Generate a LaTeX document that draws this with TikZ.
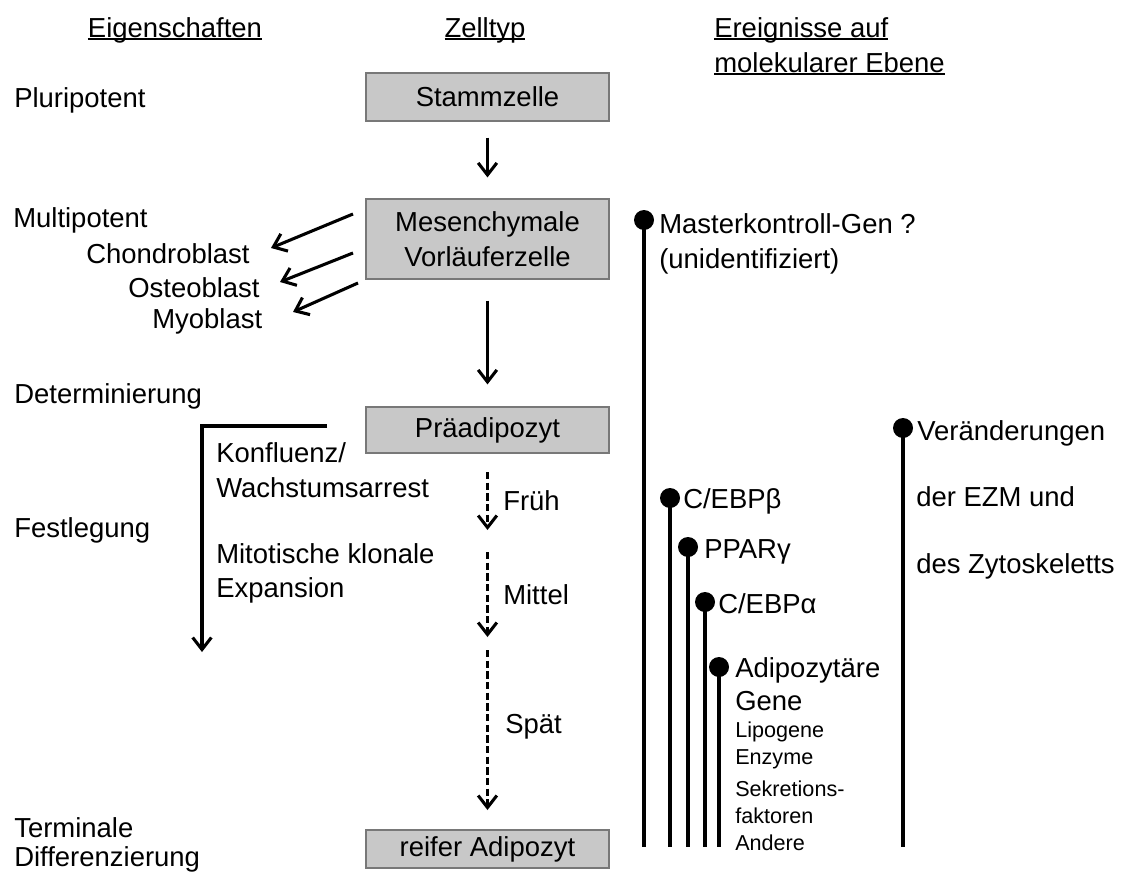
\documentclass[tikz,border=0pt]{standalone}
\usepackage{fontspec}
\setmainfont{Liberation Sans}
\usetikzlibrary{arrows.meta,calc}
\definecolor{boxfill}{RGB}{200,200,200}
\definecolor{boxline}{RGB}{120,120,120}
\newcommand\myul[1]{\setbox0\hbox{#1}\rlap{\rule[-0.1em]{\wd0}{0.065em}}\box0}
\begin{document}
\begin{tikzpicture}[x=0.75pt,y=-0.75pt,
  every node/.style={font=\fontsize{20.6pt}{26.25pt}\selectfont, inner sep=0pt},
  lbl/.style={anchor=base west},
  small/.style={anchor=base west,font=\fontsize{16.2pt}{20pt}\selectfont},
  cell/.style={draw=boxline, fill=boxfill, line width=0.9pt, minimum width=182.25pt, align=center},
  arr/.style={line width=2.3pt, -{Straight Barb[length=9pt,width=14pt]}},
  darr/.style={arr, dash pattern=on 5.5pt off 2.5pt},
  mline/.style={line width=2.3pt},
  dot/.style={circle, fill=black, minimum size=15pt}
]
\useasboundingbox (0,0) rectangle (1125,878);

% headers
\node[anchor=base] (h1) at (175,37) {\myul{Eigenschaften}};
\node[anchor=base] (h2) at (485,37) {\myul{Zelltyp}};
\node[lbl] (h3a) at (714,37) {\myul{Ereignisse auf}};
\node[lbl] (h3b) at (714,72) {\myul{molekularer Ebene}};

% left column
\node[lbl] (plu) at (14,107) {Pluripotent};
\node[lbl] (mul) at (13,227) {Multipotent};
\node[lbl] (cho) at (86,263) {Chondroblast};
\node[lbl] (ost) at (128,297) {Osteoblast};
\node[lbl] (myo) at (152,328) {Myoblast};
\node[lbl] (det) at (14,403) {Determinierung};
\node[lbl] (fest) at (14,537) {Festlegung};
\node[lbl] (term) at (14,837) {Terminale};
\node[lbl] (diff) at (14,866) {Differenzierung};
\node[lbl] (konf) at (216,462) {Konfluenz/};
\node[lbl] (wach) at (216,497) {Wachstumsarrest};
\node[lbl] (mito) at (216,563) {Mitotische klonale};
\node[lbl] (expa) at (216,597) {Expansion};

% cell boxes
\node[cell, minimum height=36pt] (stamm) at (487.5,97) {Stammzelle};
\node[cell, minimum height=60pt] (mes) at (487.5,239) {Mesenchymale\\Vorläuferzelle};
\node[cell, minimum height=34.5pt] (prae) at (487.5,430) {Präadipozyt};
\node[cell, minimum height=28.5pt] (reif) at (487.5,849) {reifer Adipozyt};

% stage labels
\node[lbl] (frueh) at (503,510) {Früh};
\node[lbl] (mitt) at (503,604) {Mittel};
\node[lbl] (spaet) at (505,733) {Spät};

% main arrows
\draw[arr] ([yshift=-12pt]stamm.south) -- ([yshift=15.75pt]mes.north);
\draw[arr] ([yshift=-15.75pt]mes.south) -- ([yshift=16.5pt]prae.north);
\coordinate (d1s) at (487.5,472); \coordinate (d1e) at (487.5,530);
\coordinate (d2s) at (487.5,552); \coordinate (d2e) at (487.5,637);
\coordinate (d3s) at (487.5,650); \coordinate (d3e) at (487.5,810);
\draw[darr] (d1s) -- (d1e);
\draw[darr] (d2s) -- (d2e);
\draw[darr] (d3s) -- (d3e);

% side arrows
\coordinate (s1) at (353,214); \coordinate (c1) at (271,248);
\coordinate (s2) at (353,253); \coordinate (c2) at (280,282);
\coordinate (s3) at (358,283); \coordinate (c3) at (293,312);
\draw[arr] (s1) -- (c1);
\draw[arr] (s2) -- (c2);
\draw[arr] (s3) -- (c3);

% bracket arrow
\coordinate (br0) at (327,426); \coordinate (br1) at (202,426); \coordinate (br2) at (202,652);
\draw[arr] (br0) -- (br1) -- (br2);

% molecular events
\coordinate (bot) at (0,847);
\node[dot] (m1) at (644,220) {};
\node[dot] (m2) at (670,498) {};
\node[dot] (m3) at (688,547) {};
\node[dot] (m4) at (705,602) {};
\node[dot] (m5) at (719,667) {};
\node[dot] (m6) at (903,428) {};
\foreach \m in {m1,m2,m3,m4,m5,m6} \draw[mline] (\m.center) -- (\m.center |- bot);

\node[lbl] (t1a) at (659,233) {Masterkontroll-Gen ?};
\node[lbl] (t1b) at (659,268) {(unidentifiziert)};
\node[lbl] (t2) at (683,508) {C/EBPβ};
\node[lbl] (t3) at (704,558) {PPARγ};
\node[lbl] (t4) at (718,613) {C/EBPα};
\node[lbl] (t5a) at (735,677) {Adipozytäre};
\node[lbl] (t5b) at (735,710) {Gene};
\node[small] (t5c) at (735,737) {Lipogene};
\node[small] (t5d) at (735,764) {Enzyme};
\node[small] (t5e) at (735,796) {Sekretions-};
\node[small] (t5f) at (735,823) {faktoren};
\node[small] (t5g) at (735,850) {Andere};
\node[lbl] (t6a) at (917,440) {Veränderungen};
\node[lbl] (t6b) at (916,506) {der EZM und};
\node[lbl] (t6c) at (916,573) {des Zytoskeletts};
\end{tikzpicture}
\end{document}
